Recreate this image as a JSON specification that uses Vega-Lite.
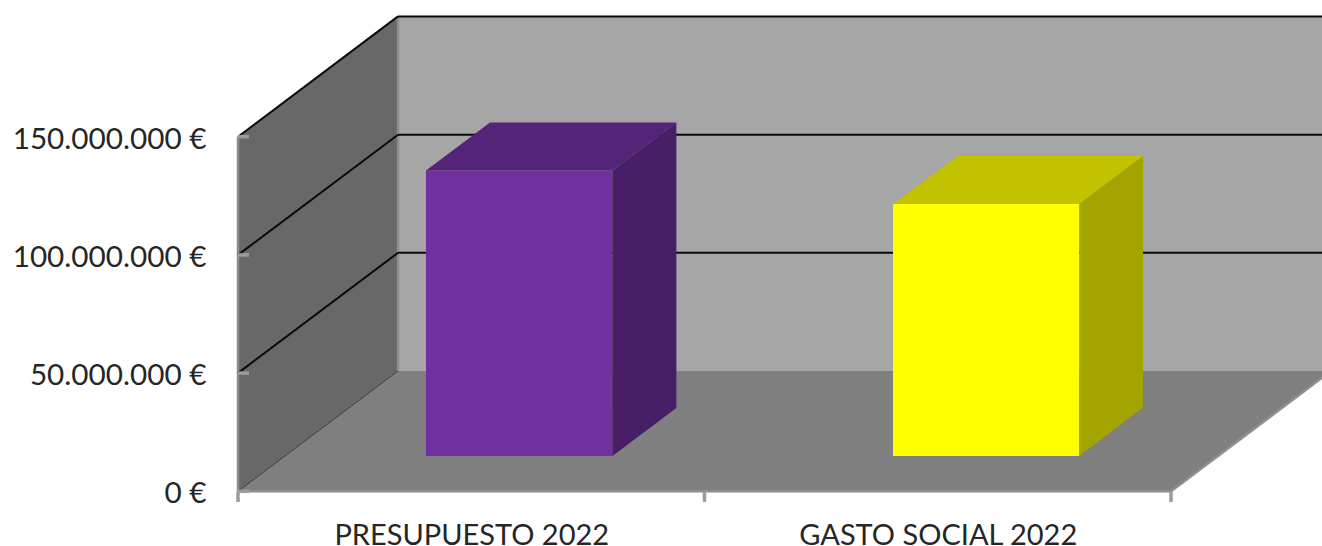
{
"$schema":"https://vega.github.io/schema/vega-lite/v6.json",
"autosize":{"type":"none"},
"width":1322,"height":546,"padding":0,"background":"#ffffff",
"config":{"view":{"stroke":null}},
"datasets":{
"wallsFlat":[
{"face":"back wall","y":50890000,"x":0.343,"x2":2.343},
{"face":"back wall","y":200890000,"x":0.343,"x2":2.343},
{"face":"floor","y":0,"x":0,"x2":2},
{"face":"floor","y":50890000,"x":0.343,"x2":2.343}],
"wallsSide":[
{"face":"left wall","x":0,"y":0,"y2":150000000},
{"face":"left wall","x":0.343,"y":50890000,"y2":200890000}],
"grid":[
{"x":0.343,"x2":2.343,"y":100890000,"y2":100890000},
{"x":0.343,"x2":2.343,"y":150800000,"y2":150800000},
{"x":0.343,"x2":2.343,"y":200890000,"y2":200890000},
{"x":0,"x2":0.343,"y":50000000,"y2":100890000},
{"x":0,"x2":0.343,"y":100000000,"y2":150800000},
{"x":0,"x2":0.343,"y":150000000,"y2":200890000}],
"seam":[
{"x":0,"x2":0.343,"y":0,"y2":50890000}],
"edges":[
{"x":0,"x2":0,"y":0,"y2":150000000},
{"x":0.343,"x2":0.343,"y":50890000,"y2":200890000},
{"x":0,"x2":2,"y":0,"y2":0},
{"x":2,"x2":2.343,"y":0,"y2":50890000}],
"ticks":[
{"x":0,"x2":0.0236,"y":0,"y2":0},
{"x":0,"x2":0.0236,"y":50000000,"y2":50000000},
{"x":0,"x2":0.0236,"y":100000000,"y2":100000000},
{"x":0,"x2":0.0236,"y":150000000,"y2":150000000},
{"x":0,"x2":0,"y":0,"y2":-4500000},
{"x":1,"x2":1,"y":0,"y2":-4500000},
{"x":2,"x2":2,"y":0,"y2":-4500000}],
"barsFlat":[
{"face":"presupuesto front","y":14930000,"x":0.403,"x2":0.8025},
{"face":"presupuesto front","y":135700000,"x":0.403,"x2":0.8025},
{"face":"presupuesto top","y":135700000,"x":0.403,"x2":0.8025},
{"face":"presupuesto top","y":156000000,"x":0.5402,"x2":0.9397},
{"face":"gasto front","y":14930000,"x":1.4041,"x2":1.8035},
{"face":"gasto front","y":121500000,"x":1.4041,"x2":1.8035},
{"face":"gasto top","y":121500000,"x":1.4041,"x2":1.8035},
{"face":"gasto top","y":141800000,"x":1.5434,"x2":1.94}],
"barsSide":[
{"face":"presupuesto side","x":0.8025,"y":14930000,"y2":135700000},
{"face":"presupuesto side","x":0.9397,"y":35200000,"y2":156000000},
{"face":"gasto side","x":1.8035,"y":14930000,"y2":121500000},
{"face":"gasto side","x":1.94,"y":35500000,"y2":141800000}]
},
"encoding":{
"x":{"field":"x","type":"quantitative","scale":{"domain":[-0.5102,2.3237],"nice":false,"zero":false},
"axis":{"title":null,"orient":"bottom","values":[0.5,1.5],"offset":-25,"domain":false,"ticks":false,"grid":false,"labelExpr":"datum.value<1?'PRESUPUESTO 2022':'GASTO SOCIAL 2022'","labelFont":"Lato","labelFontSize":29,"labelColor":"#262626","labelPadding":0,"labelLimit":600,"labelOverlap":false,"labelBound":false,"labelFlush":false}},
"y":{"field":"y","type":"quantitative","scale":{"domain":[-23140000,207830000],"nice":false,"zero":false},
"axis":{"title":null,"orient":"left","values":[0,50000000,100000000,150000000],"offset":-206,"domain":false,"ticks":false,"grid":false,"labelExpr":"replace(format(datum.value,','),/,/g,'.')+' €'","labelFont":"Lato","labelFontSize":29.7,"labelColor":"#262626","labelPadding":0,"labelOffset":2.5,"labelLimit":600,"labelOverlap":false,"labelBound":false,"labelFlush":false}}
},
"layer":[
{"data":{"name":"wallsFlat"},"mark":{"type":"area","orient":"horizontal","clip":true,"opacity":1},
"encoding":{"x2":{"field":"x2"},"color":{"field":"face","type":"nominal","legend":null,"scale":{"domain":["back wall","floor","left wall","presupuesto front","presupuesto top","presupuesto side","gasto front","gasto top","gasto side"],"range":["#a6a6a6","#7f7f7f","#686868","#7030a0","#542478","#461f66","#ffff00","#c2c200","#a4a400"]}}}},
{"data":{"name":"wallsSide"},"mark":{"type":"area","orient":"vertical","clip":true,"opacity":1},
"encoding":{"y2":{"field":"y2"},"color":{"field":"face","type":"nominal","legend":null}}},
{"data":{"name":"seam"},"mark":{"type":"rule","clip":true,"stroke":"#3a3a3a","strokeWidth":1},
"encoding":{"x2":{"field":"x2"},"y2":{"field":"y2"}}},
{"data":{"name":"edges"},"mark":{"type":"rule","clip":true,"stroke":"#8e8e8e","strokeWidth":2.5},
"encoding":{"x2":{"field":"x2"},"y2":{"field":"y2"}}},
{"data":{"name":"grid"},"mark":{"type":"rule","clip":true,"stroke":"#0a0a0a","strokeWidth":2},
"encoding":{"x2":{"field":"x2"},"y2":{"field":"y2"}}},
{"data":{"name":"ticks"},"mark":{"type":"rule","clip":true,"stroke":"#9c9c9c","strokeWidth":3.5},
"encoding":{"x2":{"field":"x2"},"y2":{"field":"y2"}}},
{"data":{"name":"barsFlat"},"mark":{"type":"area","orient":"horizontal","clip":true,"opacity":1},
"encoding":{"x2":{"field":"x2"},"color":{"field":"face","type":"nominal","legend":null}}},
{"data":{"name":"barsSide"},"mark":{"type":"area","orient":"vertical","clip":true,"opacity":1},
"encoding":{"y2":{"field":"y2"},"color":{"field":"face","type":"nominal","legend":null}}}
]
}
